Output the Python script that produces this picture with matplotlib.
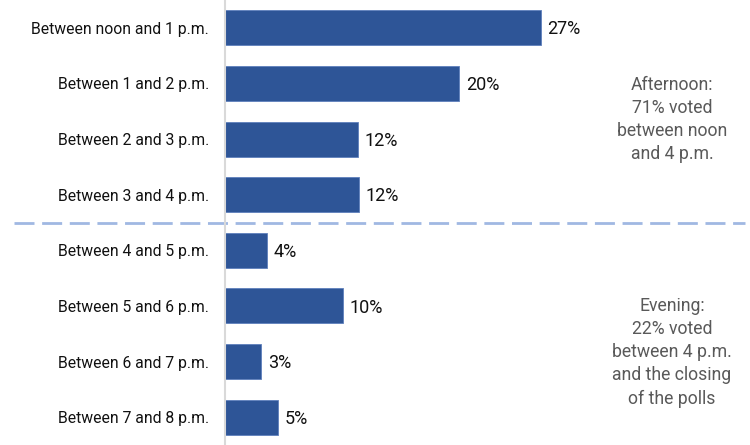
import matplotlib
matplotlib.use("Agg")
import matplotlib.pyplot as plt
from matplotlib.transforms import blended_transform_factory

plt.rcParams['font.family'] = ['Roboto', 'DejaVu Sans']

categories = ["Between noon and 1 p.m.", "Between 1 and 2 p.m.", "Between 2 and 3 p.m.",
              "Between 3 and 4 p.m.", "Between 4 and 5 p.m.", "Between 5 and 6 p.m.",
              "Between 6 and 7 p.m.", "Between 7 and 8 p.m."]
values = [27.0, 20.05, 11.4, 11.5, 3.6, 10.1, 3.15, 4.55]
value_labels = ["27%", "20%", "12%", "12%", "4%", "10%", "3%", "5%"]
notes = ["Afternoon:\n71% voted\nbetween noon\nand 4 p.m.",
         "Evening:\n22% voted\nbetween 4 p.m.\nand the closing\nof the polls"]

fig = plt.figure(figsize=(7.5, 4.45), dpi=100)
ax = fig.add_axes([224.5 / 750, 0, 1 - 224.5 / 750, 1])

y = list(range(len(categories)))
ax.barh(y, values, height=0.63, color="#2E5597", edgecolor="#5F80BC", linewidth=0.6)
ax.set_ylim(7.5, -0.5)
ax.set_xlim(0, 525.5 / 11.71)

for yi, v, lab in zip(y, values, value_labels):
    ax.text(v + 0.55, yi + 0.03, lab, va="center", ha="left", fontsize=13, color="#111111")

ax.set_yticks(y)
ax.set_yticklabels(categories, fontsize=11.3, color="#111111")
ax.tick_params(axis="y", length=0, pad=11)
ax.set_xticks([])
for s in ["top", "right", "bottom"]:
    ax.spines[s].set_visible(False)
ax.spines["left"].set_color("#D9D9D9")
ax.spines["left"].set_linewidth(1.5)

# divider between afternoon and evening
tr = blended_transform_factory(fig.transFigure, ax.transData)
ax.plot([14 / 750, 745 / 750], [3.5, 3.5], transform=tr, clip_on=False,
        color="#A0B8E2", linewidth=2, dashes=(7.2, 2.75))

fig.text(672 / 750, 1 - 119.5 / 445, notes[0], ha="center", va="center",
         fontsize=12.7, color="#595959", linespacing=1.36)
fig.text(672 / 750, 1 - 352.5 / 445, notes[1], ha="center", va="center",
         fontsize=12.7, color="#595959", linespacing=1.36)

fig.savefig("out.png", dpi=100)
